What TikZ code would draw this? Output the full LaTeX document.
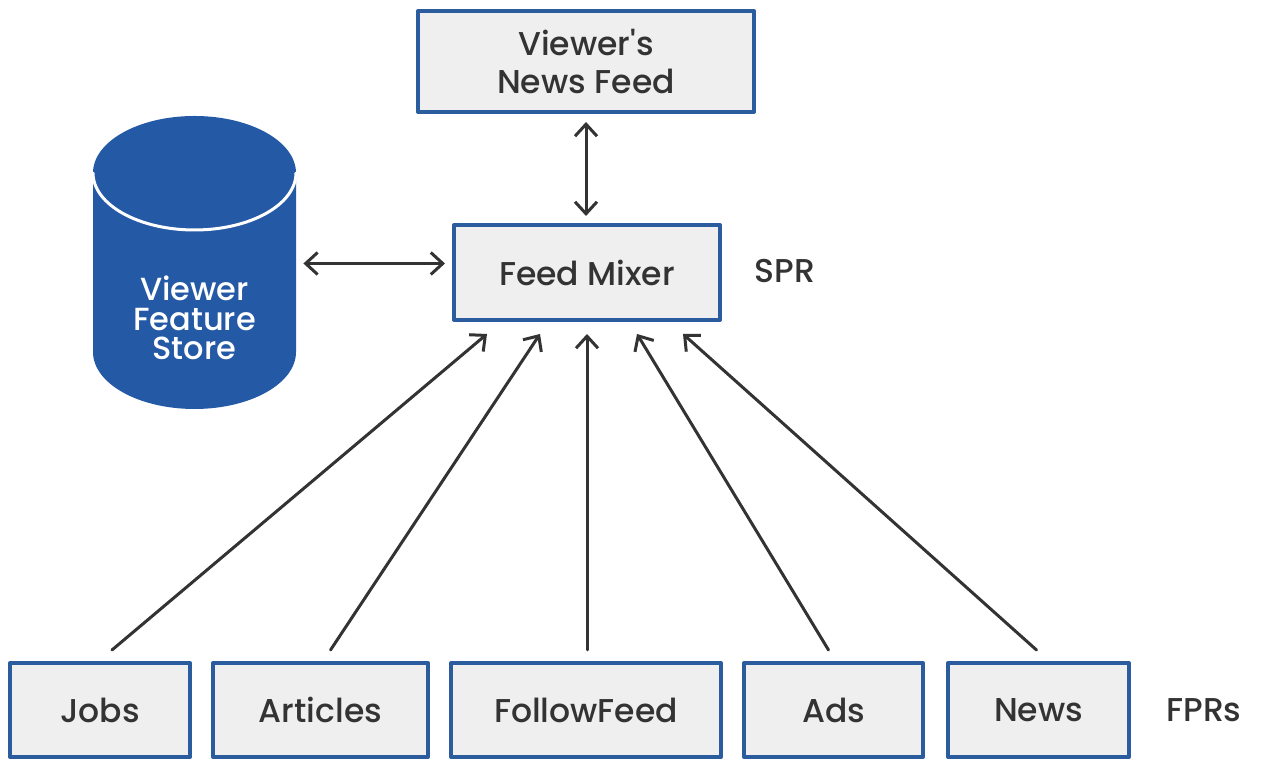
\documentclass[tikz,border=0pt]{standalone}
\usepackage{fontspec}
\setmainfont{Poppins}[UprightFont=* Medium]
\usetikzlibrary{arrows.meta}
\definecolor{boxblue}{HTML}{2B5C9E}
\definecolor{storeblue}{HTML}{2459A6}
\definecolor{boxgray}{HTML}{EFEFEF}
\definecolor{inkgray}{HTML}{333333}
\tikzset{
	feedbox/.style={draw=boxblue,line width=2pt,fill=boxgray,text=inkgray,align=center,inner sep=0pt,font=\fontsize{16.5}{19}\selectfont},
	tierlabel/.style={text=inkgray,font=\fontsize{16.5}{19}\selectfont},
	link/.style={draw=inkgray,line width=1.5pt},
}
\begin{document}
\begin{tikzpicture}[line cap=round,line join=round,>={Straight Barb[length=6pt,width=11pt]},x=0.5pt,y=0.5pt]
		\useasboundingbox (0,0) rectangle (1280,769);
		% feature store cylinder
		\fill [storeblue] (93,596) -- (93,417) arc[start angle=180,end angle=360,x radius=50.75pt,y radius=28.5pt] -- (296,596) arc[start angle=0,end angle=180,x radius=50.75pt,y radius=28.5pt] -- cycle;
		\draw [white,line width=1.5pt] (93,596) arc[start angle=180,end angle=360,x radius=50.75pt,y radius=28.5pt];
		\node (store) at (194.5,505.5) [minimum width=101.5pt,minimum height=146.5pt,inner sep=0pt] {};
		\node (storetext) at (194.5,451) [text=white,align=center,font=\fontsize{16}{14.75}\selectfont] {Viewer\\Feature\\Store};
		% SPR
		\node [feedbox,minimum width=168pt,minimum height=50.5pt] (feed) at (586,707.5) {Viewer\textquotesingle s\\News Feed};
		\node [feedbox,minimum width=133pt,minimum height=47.5pt] (mixer) at (587,496.5) {Feed Mixer};
		\node [tierlabel] (spr) at (785,498) {SPR};
		% FPRs
		\node [feedbox,minimum width=90pt,minimum height=47pt] (jobs) at (100,59) {Jobs};
		\node [feedbox,minimum width=107.5pt,minimum height=47pt] (articles) at (320.5,59) {Articles};
		\node [feedbox,minimum width=135pt,minimum height=47pt] (follow) at (586,59) {FollowFeed};
		\node [feedbox,minimum width=89.5pt,minimum height=47pt] (ads) at (833.5,59) {Ads};
		\node [feedbox,minimum width=90.5pt,minimum height=47pt] (news) at (1038.5,59) {News};
		\node [tierlabel] (fprs) at (1204,59) {FPRs};
		% connectors
		\draw [link,<->,shorten <=4pt,shorten >=3.5pt] (feed.south) -- (feed.south |- mixer.north);
		\draw [link,<->,shorten <=3.5pt,shorten >=3.5pt] (store.east) -- (store.east -| mixer.west);
		\draw [link,->] ([xshift=6pt,yshift=5.5pt]jobs.north) -- ([xshift=-50pt,yshift=-6pt]mixer.south);
		\draw [link,->] ([xshift=5pt,yshift=5.5pt]articles.north) -- ([xshift=-23.5pt,yshift=-6pt]mixer.south);
		\draw [link,->] ([xshift=0.5pt,yshift=5.5pt]follow.north) -- ([yshift=-6pt]mixer.south);
		\draw [link,->] ([xshift=-2.5pt,yshift=5.5pt]ads.north) -- ([xshift=25pt,yshift=-6pt]mixer.south);
		\draw [link,->] ([xshift=-1pt,yshift=5.5pt]news.north) -- ([xshift=48pt,yshift=-6pt]mixer.south);
	\end{tikzpicture}
\end{document}
